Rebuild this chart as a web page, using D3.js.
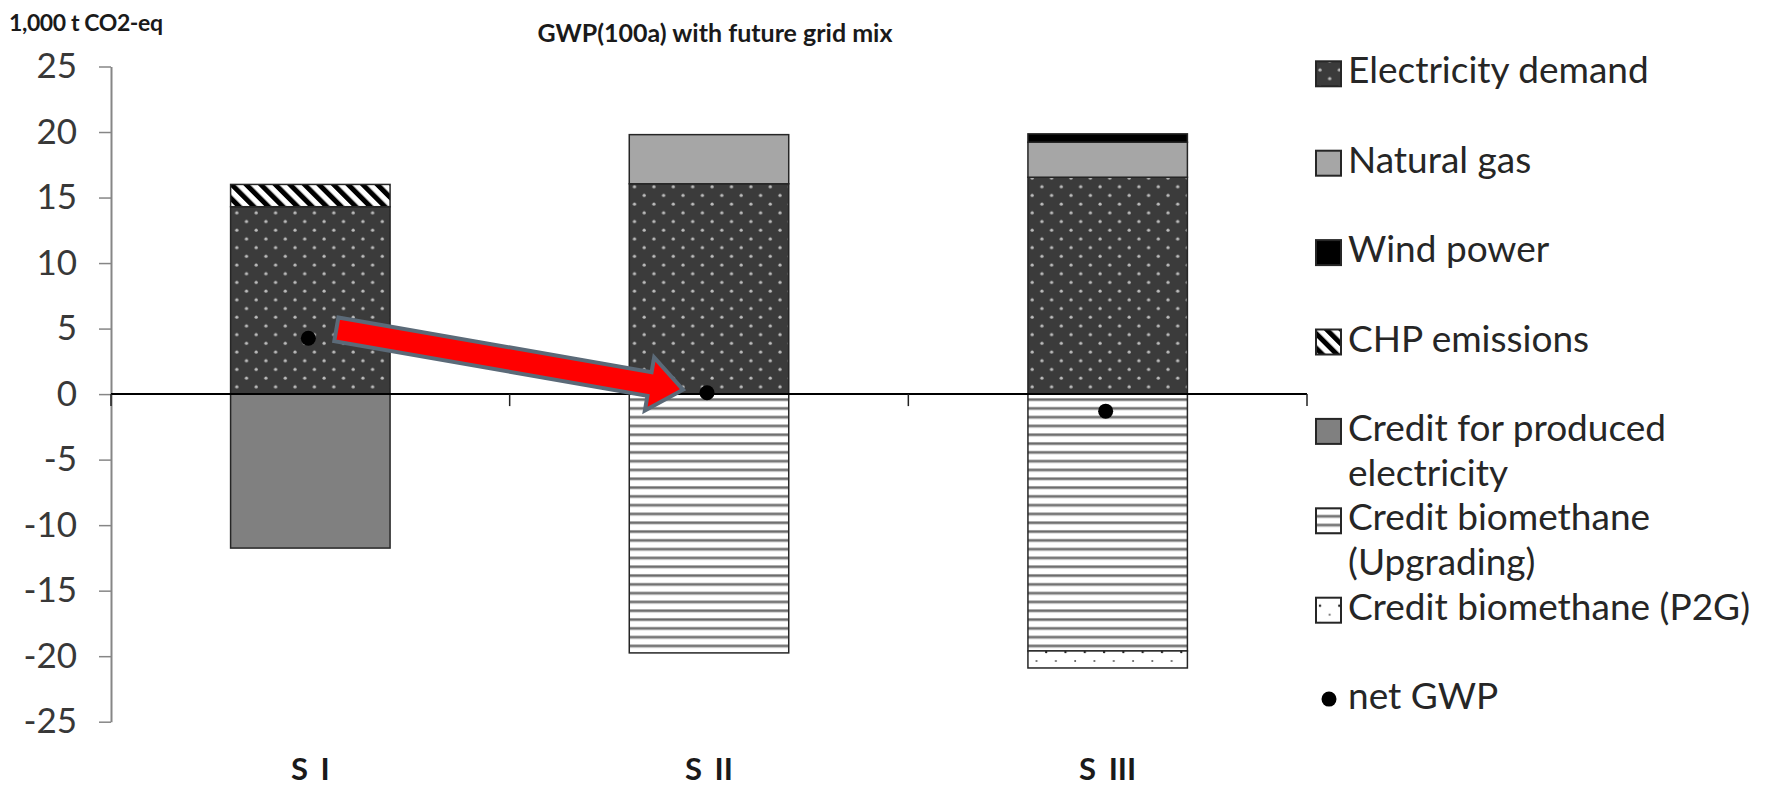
<!DOCTYPE html>
<html>
<head>
<meta charset="utf-8">
<script src="https://cdn.jsdelivr.net/npm/d3@7"></script>
<style>
  body { margin: 0; background: #fff; }
  text { font-family: Lato, "Open Sans", sans-serif; }
</style>
</head>
<body>
<div id="chart"></div>
<script>
"use strict";

// scenario data, 1,000 t CO2-eq
var scenarios = ["S I", "S II", "S III"];
var electricityDemand = [14.3, 16.05, 16.55];
var naturalGas = [0, 3.75, 2.67];
var windPower = [0, 0, 0.64];
var chpEmissions = [1.7, 0, 0];
var creditElectricity = [-11.75, 0, 0];
var creditUpgrading = [0, -19.75, -19.6];
var creditP2G = [0, 0, -1.3];
var netGWP = [4.26, 0.1, -1.3];
var yTicks = [25, 20, 15, 10, 5, 0, -5, -10, -15, -20, -25];

var series = [
  {key: "elec", name: ["Electricity demand"], values: electricityDemand, fill: "url(#elecPat)"},
  {key: "gas", name: ["Natural gas"], values: naturalGas, fill: "#a6a6a6"},
  {key: "wind", name: ["Wind power"], values: windPower, fill: "#000"},
  {key: "chp", name: ["CHP emissions"], values: chpEmissions, fill: "url(#chpPat)"},
  {key: "credEl", name: ["Credit for produced", "electricity"], values: creditElectricity, fill: "#808080"},
  {key: "upg", name: ["Credit biomethane", "(Upgrading)"], values: creditUpgrading, fill: "url(#upgPat)"},
  {key: "p2g", name: ["Credit biomethane (P2G)"], values: creditP2G, fill: "url(#p2gPat)"}
];

var W = 1779, H = 787,
    m = [66.5, 472, 65.3, 111]; // top right bottom left

var svg = d3.select("#chart").append("svg")
    .attr("width", W)
    .attr("height", H);

svg.append("rect").attr("width", W).attr("height", H).attr("fill", "#fff");

// fill patterns
var defs = svg.append("defs");
var p = defs.append("pattern").attr("id", "elecPat").attr("patternUnits", "userSpaceOnUse")
    .attr("width", 19.4).attr("height", 17.4);
p.append("rect").attr("width", 19.4).attr("height", 17.4).attr("fill", "#3b3b3b");
p.append("circle").attr("cx", 4).attr("cy", 4).attr("r", 1.6).attr("fill", "#bcbcbc");
p.append("circle").attr("cx", 13.7).attr("cy", 12.7).attr("r", 1.6).attr("fill", "#bcbcbc");

p = defs.append("pattern").attr("id", "chpPat").attr("patternUnits", "userSpaceOnUse")
    .attr("width", 10.3).attr("height", 10.3).attr("patternTransform", "rotate(-45)");
p.append("rect").attr("width", 10.3).attr("height", 10.3).attr("fill", "#fff");
p.append("rect").attr("width", 5).attr("height", 10.3).attr("fill", "#000");

p = defs.append("pattern").attr("id", "upgPat").attr("patternUnits", "userSpaceOnUse")
    .attr("width", 10).attr("height", 8.8);
p.append("rect").attr("width", 10).attr("height", 8.8).attr("fill", "#fff");
p.append("rect").attr("y", 2).attr("width", 10).attr("height", 3.2).attr("fill", "#9a9a9a");
p.append("rect").attr("y", 3).attr("width", 10).attr("height", 1.2).attr("fill", "#666");

p = defs.append("pattern").attr("id", "p2gPat").attr("patternUnits", "userSpaceOnUse")
    .attr("width", 19.3).attr("height", 18);
p.append("rect").attr("width", 19.3).attr("height", 18).attr("fill", "#fff");
p.append("circle").attr("cx", 4).attr("cy", 4).attr("r", 1.2).attr("fill", "#222");
p.append("circle").attr("cx", 13.65).attr("cy", 13).attr("r", 1).attr("fill", "#555");

var x = d3.scaleBand()
    .domain(scenarios)
    .range([m[3], W - m[1]])
    .paddingInner(0.6)
    .paddingOuter(0.3);

var y = d3.scaleLinear()
    .domain([-25, 25])
    .range([H - m[2], m[0]]);

// stacked bars
var rows = scenarios.map(function(s, i) {
  var r = {scenario: s};
  series.forEach(function(d) { r[d.key] = d.values[i]; });
  return r;
});

var stacked = d3.stack()
    .keys(series.map(function(d) { return d.key; }))
    .offset(d3.stackOffsetDiverging)(rows);

svg.append("g").selectAll("g")
    .data(stacked)
  .enter().append("g")
    .attr("fill", function(d, i) { return series[i].fill; })
  .selectAll("rect")
    .data(function(d) { return d.filter(function(v) { return v[1] !== v[0]; }); })
  .enter().append("rect")
    .attr("x", function(d) { return x(d.data.scenario); })
    .attr("width", x.bandwidth())
    .attr("y", function(d) { return y(Math.max(d[0], d[1])); })
    .attr("height", function(d) { return Math.abs(y(d[0]) - y(d[1])); })
    .attr("stroke", "#262626")
    .attr("stroke-width", 1.5);

// y axis
var yAxis = d3.axisLeft(y)
    .tickValues(yTicks)
    .tickFormat(function(d) { return String(d); })
    .tickSize(12).tickPadding(22).tickSizeOuter(0);
var ya = svg.append("g")
    .attr("transform", "translate(" + m[3] + ",0)")
    .call(yAxis);
ya.select(".domain").attr("stroke", "#868686").attr("stroke-width", 2);
ya.selectAll(".tick line").attr("stroke", "#868686").attr("stroke-width", 1.5);
ya.selectAll(".tick text")
    .attr("fill", "#383838")
    .style("font-size", "35px")
    .style("font-family", "Lato");

// zero line with category ticks
var xa = svg.append("g")
    .attr("transform", "translate(0," + y(0) + ")")
    .call(d3.axisBottom(x).tickSize(0).tickFormat(""));
xa.select(".domain").attr("stroke", "#000").attr("stroke-width", 2)
    .attr("d", "M" + m[3] + ",0H" + (W - m[1]));
var bounds = [m[3], W - m[1]].concat(scenarios.slice(1).map(function(s) {
  return x(s) - x.step() * x.paddingInner() / 2;
}));
xa.selectAll(".sep")
    .data(bounds)
  .enter().append("line")
    .attr("x1", function(d) { return d; })
    .attr("x2", function(d) { return d; })
    .attr("y1", 0)
    .attr("y2", 12)
    .attr("stroke", "#222")
    .attr("stroke-width", 1.5);

// category labels
svg.append("g").selectAll("text")
    .data(scenarios)
  .enter().append("text")
    .attr("x", function(d) { return x(d) + x.bandwidth() / 2; })
    .attr("y", 780)
    .attr("text-anchor", "middle")
    .attr("fill", "#1a1a1a")
    .style("font-size", "31px")
    .style("font-weight", "bold")
    .style("word-spacing", "5px")
    .text(function(d) { return d; });

// red arrow from S I to S II net value
var ax0 = x(scenarios[0]) + x.bandwidth() / 2 + 26, ay0 = y(netGWP[0]) - 9,
    ax1 = x(scenarios[1]) + x.bandwidth() / 2 - 26, ay1 = y(netGWP[1]) - 3;
var len = Math.hypot(ax1 - ax0, ay1 - ay0),
    ang = Math.atan2(ay1 - ay0, ax1 - ax0) * 180 / Math.PI,
    sw = 12, hw = 27, hl = 34;
svg.append("path")
    .attr("transform", "translate(" + ax0 + "," + ay0 + ") rotate(" + ang + ")")
    .attr("d", d3.line()([[0, -sw], [len - hl, -sw], [len - hl, -hw], [len, 0],
                          [len - hl, hw], [len - hl, sw], [0, sw]]) + "Z")
    .attr("fill", "#ff0000")
    .attr("stroke", "#5b6a78")
    .attr("stroke-width", 4)
    .attr("stroke-linejoin", "miter");

// net GWP points
svg.append("g").selectAll("circle")
    .data(netGWP)
  .enter().append("circle")
    .attr("cx", function(d, i) { return x(scenarios[i]) + x.bandwidth() / 2 - 2; })
    .attr("cy", function(d) { return y(d); })
    .attr("r", 7.5)
    .attr("fill", "#000");

// titles
svg.append("text")
    .attr("x", 715)
    .attr("y", 42)
    .attr("text-anchor", "middle")
    .attr("fill", "#1a1a1a")
    .style("font-size", "25px")
    .style("font-weight", "bold")
    .text("GWP(100a) with future grid mix");

svg.append("text")
    .attr("x", 9)
    .attr("y", 31)
    .attr("fill", "#1a1a1a")
    .style("font-size", "23px")
    .style("font-weight", "bold")
    .style("letter-spacing", "-0.4px")
    .text("1,000 t CO2-eq");

// legend
var legendItems = series.map(function(d) { return {name: d.name, fill: d.fill}; })
    .concat([{name: ["net GWP"], dot: true}]);
var lg = svg.append("g").selectAll("g")
    .data(legendItems)
  .enter().append("g")
    .attr("transform", function(d, i) { return "translate(1316," + (83.3 + 89.4 * i) + ")"; });
lg.filter(function(d) { return !d.dot; }).append("rect")
    .attr("y", -22)
    .attr("width", 25)
    .attr("height", 25)
    .attr("fill", function(d) { return d.fill; })
    .attr("stroke", "#262626")
    .attr("stroke-width", 2);
lg.filter(function(d) { return d.dot; }).append("circle")
    .attr("cx", 13)
    .attr("cy", -10)
    .attr("r", 7.5)
    .attr("fill", "#000");
lg.append("text")
    .attr("x", 32)
    .attr("fill", "#262626")
    .style("font-size", "37px")
  .selectAll("tspan")
    .data(function(d) { return d.name; })
  .enter().append("tspan")
    .attr("x", 32)
    .attr("y", function(d, i) { return i * 44.7; })
    .text(function(d) { return d; });
</script>
</body>
</html>
